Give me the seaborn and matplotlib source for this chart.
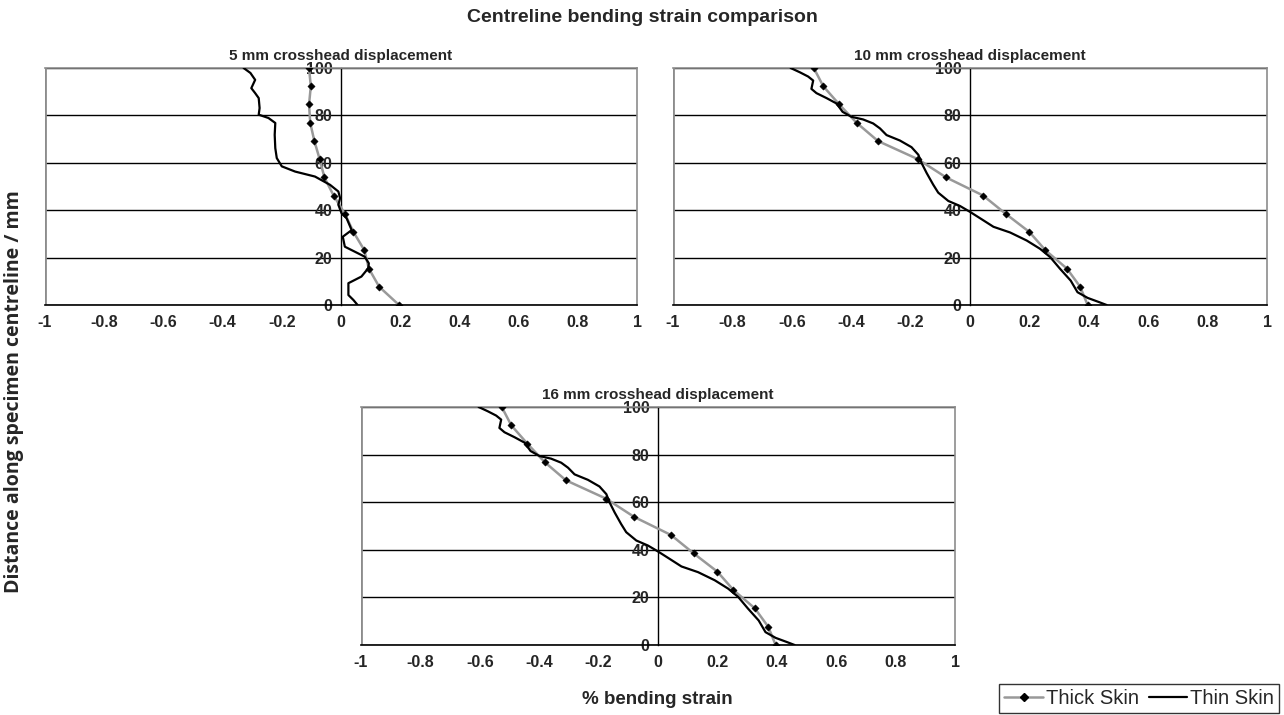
import numpy as np
import pandas as pd
import seaborn as sns
import matplotlib.pyplot as plt
from matplotlib.lines import Line2D

# --- data ---
# thick skin: marker points (same heights on every panel)
thick_y = [100, 92.3, 84.6, 76.9, 69.2, 61.5, 53.8, 46.2, 38.5, 30.8, 23.1, 15.4, 7.7, 0]
thick_5mm = [-0.108, -0.102, -0.108, -0.104, -0.09, -0.072, -0.056, -0.025, 0.013,
             0.042, 0.079, 0.094, 0.129, 0.196]
thick_10mm = [-0.526, -0.494, -0.44, -0.382, -0.31, -0.175, -0.08, 0.044, 0.12,
              0.2, 0.254, 0.326, 0.371, 0.396]
thick_16mm = list(thick_10mm)

# thin skin: continuous trace
thin_5mm_y = [100, 97.9, 95, 91.5, 89.4, 87.3, 83.1, 80.3, 78.9, 76.8, 71.8, 66.2, 62,
              58.5, 56.3, 54.2, 50.7, 47.9, 45.1, 42.3, 38.7, 36.6, 31.6, 28.8, 24.6,
              20.4, 17.6, 15.5, 12, 9.2, 4.2, 2.1, 0]
thin_5mm_x = [-0.329, -0.306, -0.29, -0.303, -0.29, -0.278, -0.275, -0.278, -0.245,
              -0.222, -0.224, -0.222, -0.217, -0.2, -0.155, -0.088, -0.037, -0.009,
              -0.003, -0.009, 0.002, 0.019, 0.036, 0.006, 0.013, 0.08, 0.094, 0.092,
              0.069, 0.025, 0.025, 0.042, 0.056]

thin_10mm_y = [100, 98.2, 96.4, 94.7, 91.2, 89.4, 87.3, 85, 81.5, 79.4, 78.3, 76.6, 74.5,
               71.7, 69.4, 66.6, 63.4, 59.9, 55.7, 50.8, 47.4, 43.9, 41.8, 39.3, 36.2,
               33, 30.6, 27.2, 23.7, 20.2, 15.3, 10.3, 5.4, 3, 1.2, 0]
thin_10mm_x = [-0.604, -0.573, -0.545, -0.528, -0.534, -0.517, -0.483, -0.449, -0.429,
               -0.399, -0.36, -0.326, -0.303, -0.281, -0.236, -0.197, -0.174, -0.163,
               -0.146, -0.124, -0.107, -0.073, -0.034, 0, 0.039, 0.079, 0.135, 0.191,
               0.236, 0.27, 0.303, 0.339, 0.362, 0.396, 0.435, 0.46]
thin_16mm_y = list(thin_10mm_y)
thin_16mm_x = list(thin_10mm_x)

x_ticks = [-1, -0.8, -0.6, -0.4, -0.2, 0, 0.2, 0.4, 0.6, 0.8, 1]
y_ticks = [0, 20, 40, 60, 80, 100]

GREY = '#999999'
BORDER = '#8c8c8c'

sns.set_style('white')
plt.rcParams['font.family'] = ['Liberation Sans', 'DejaVu Sans']
plt.rcParams['axes.unicode_minus'] = False


def draw_panel(ax, thick_x, thin_x, thin_y, title):
    # thick skin first, thin skin drawn on top
    sns.lineplot(x=thick_x, y=thick_y, sort=False, estimator=None, color=GREY,
                 linewidth=1.8, ax=ax, zorder=3)
    sns.scatterplot(x=thick_x, y=thick_y, marker='D', s=14, color='black',
                    edgecolor='black', linewidth=0.3, ax=ax, zorder=4)
    sns.lineplot(x=thin_x, y=thin_y, sort=False, estimator=None, color='black',
                 linewidth=1.6, ax=ax, zorder=5)

    ax.set_xlim(-1, 1)
    ax.set_ylim(0, 100)
    ax.set_xticks(x_ticks)
    ax.set_xticklabels(['%g' % v for v in x_ticks])
    ax.set_yticks(y_ticks)
    ax.set_yticklabels([str(v) for v in y_ticks])
    ax.grid(axis='y', color='black', linewidth=1.0)
    ax.grid(axis='x', visible=False)

    # value axis crosses at x = 0, grey plot-area border elsewhere
    ax.spines['left'].set_position(('data', 0))
    ax.spines['left'].set_color('black')
    ax.spines['left'].set_linewidth(1.0)
    ax.spines['bottom'].set_color('black')
    ax.spines['bottom'].set_linewidth(1.2)
    for s in ['top', 'right']:
        ax.spines[s].set_color(BORDER)
        ax.spines[s].set_linewidth(1.2)
    ax.axvline(-1, color=BORDER, linewidth=2.0, zorder=1)

    ax.tick_params(axis='both', direction='out', length=5, width=1, color='black',
                   labelsize=11.5, pad=2)
    ax.tick_params(axis='y', pad=1)
    for lab in ax.get_xticklabels() + ax.get_yticklabels():
        lab.set_fontweight('bold')
    ax.set_xlabel('')
    ax.set_ylabel('')
    ax.set_title(title, fontsize=11, fontweight='bold', pad=6)


fig = plt.figure(figsize=(12.84, 7.15), dpi=100)
ax1 = fig.add_axes([45 / 1284, 1 - 305 / 715, 592 / 1284, 237 / 715])
ax2 = fig.add_axes([673 / 1284, 1 - 305 / 715, 594 / 1284, 237 / 715])
ax3 = fig.add_axes([361 / 1284, 1 - 645 / 715, 594 / 1284, 238 / 715])

draw_panel(ax1, thick_5mm, thin_5mm_x, thin_5mm_y, '5 mm crosshead displacement')
draw_panel(ax2, thick_10mm, thin_10mm_x, thin_10mm_y, '10 mm crosshead displacement')
draw_panel(ax3, thick_16mm, thin_16mm_x, thin_16mm_y, '16 mm crosshead displacement')

fig.text(0.5, 1 - 17 / 715, 'Centreline bending strain comparison', ha='center',
         va='center', fontsize=14, fontweight='bold')
fig.text(14 / 1284, 1 - 392 / 715, 'Distance along specimen centreline / mm',
         rotation=90, ha='center', va='center', fontsize=14, fontweight='bold',
         family=['Open Sans', 'DejaVu Sans'])
fig.text(657 / 1284, 1 - 700 / 715, '% bending strain', ha='center', va='center',
         fontsize=13.5, fontweight='bold')

handles = [Line2D([], [], color=GREY, linewidth=1.8, marker='D', markersize=4,
                  markerfacecolor='black', markeredgecolor='black'),
           Line2D([], [], color='black', linewidth=1.6)]
leg = fig.legend(handles, ['Thick Skin', 'Thin Skin'], loc='lower right',
                 bbox_to_anchor=(1279 / 1284, 2 / 715), ncol=2, fontsize=14.5,
                 frameon=True, fancybox=False, edgecolor='black', handlelength=1.9,
                 handletextpad=0.15, columnspacing=0.5, borderpad=0.25,
                 borderaxespad=0)
leg.get_frame().set_linewidth(1.0)

fig.savefig('out.png', dpi=100)
